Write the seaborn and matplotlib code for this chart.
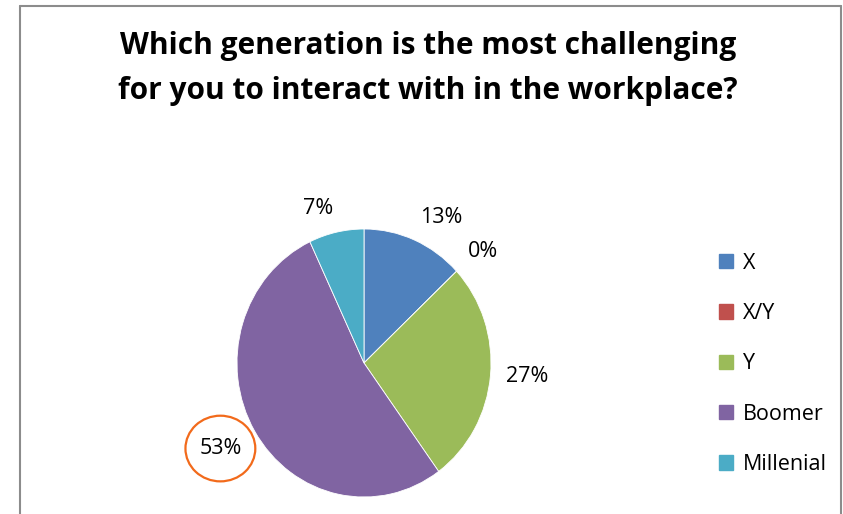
import matplotlib
matplotlib.use('Agg')
import matplotlib.pyplot as plt
import seaborn as sns
import numpy as np
from matplotlib.patches import Ellipse
from matplotlib.lines import Line2D

sns.set_theme(style='white')
plt.rcParams['font.family'] = ['Open Sans', 'DejaVu Sans']
plt.rcParams['text.color'] = 'black'

# data
generations = ['X', 'X/Y', 'Y', 'Boomer', 'Millenial']
shares = [13, 0, 27, 53, 7]
colors = ['#4F81BD', '#C0504D', '#9BBB59', '#8064A2', '#4BACC6']
title = 'Which generation is the most challenging\nfor you to interact with in the workplace?'

fig = plt.figure(figsize=(8.43, 5.14), dpi=100)

# pie axes (slightly taller than wide, like the original)
ax = fig.add_axes([237 / 843, 17 / 514, 254 / 843, 268 / 514])
wedges, texts, autotexts = ax.pie(shares, colors=colors, startangle=90, counterclock=False,
                                  autopct='%1.0f%%',
                                  wedgeprops=dict(linewidth=0.6, edgecolor='white'),
                                  textprops=dict(fontsize=15.5, color='black'))
ax.set_aspect('auto')
ax.set_xlim(-1, 1)
ax.set_ylim(-1, 1)
ax.axis('off')

# excel style "outside end" labels: anchor the text corner just outside the rim
for w, t in zip(wedges, autotexts):
    ang = np.deg2rad((w.theta1 + w.theta2) / 2)
    c, s = np.cos(ang), np.sin(ang)
    t.set_position((1.12 * c, 1.1 * s))
    t.set_ha('left' if c > 0.1 else 'right' if c < -0.1 else 'center')
    t.set_va('bottom' if s > 0.3 else 'top' if s < -0.3 else 'center')

fig.canvas.draw()

# orange ring around the biggest share
big = shares.index(max(shares))
bb = autotexts[big].get_window_extent().transformed(ax.transData.inverted())
ax.add_patch(Ellipse(((bb.x0 + bb.x1) / 2, (bb.y0 + bb.y1) / 2), 0.55, 0.49, fill=False,
                     edgecolor='#F26A1B', linewidth=1.6, clip_on=False))

fig.text(0.508, 0.867, title, ha='center', va='center', fontsize=21.5,
         fontweight='bold', linespacing=1.65, color='black')

handles = [plt.Rectangle((0, 0), 1, 1, color=c) for c in colors]
fig.legend(handles, generations, loc='center left', bbox_to_anchor=(0.83, 0.292),
           frameon=False, fontsize=15.5, handlelength=0.65, handleheight=0.65,
           handletextpad=0.45, labelspacing=1.36, labelcolor='black')

# chart frame (bottom edge is cut off in the original)
frame = dict(color='#8c8c8c', linewidth=1.5, transform=fig.transFigure)
fig.add_artist(Line2D([19.5 / 843, 19.5 / 843], [0, 1 - 6 / 514], **frame))
fig.add_artist(Line2D([19.5 / 843, 841 / 843], [1 - 6 / 514, 1 - 6 / 514], **frame))
fig.add_artist(Line2D([841 / 843, 841 / 843], [0, 1 - 6 / 514], **frame))

fig.savefig('out.png', dpi=100)
